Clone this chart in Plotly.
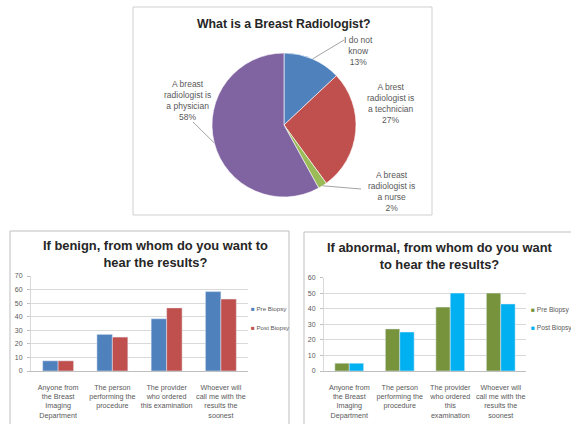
import math
import plotly.graph_objects as go

# ---- data -------------------------------------------------------------
pie_labels = [
    "I do not<br>know",
    "A brest<br>radiologist is<br>a technician",
    "A breast<br>radiologist is<br>a nurse",
    "A breast<br>radiologist is<br>a physician",
]
pie_values = [13, 27, 2, 58]
pie_colors = ["#4F81BD", "#C0504D", "#9BBB59", "#8064A2"]

series_names = ["Pre Biopsy", "Post Biopsy"]

benign_categories = [
    "Anyone from<br>the Breast<br>Imaging<br>Department",
    "The person<br>performing the<br>procedure",
    "The provider<br>who ordered<br>this examination",
    "Whoever will<br>call me with the<br>results the<br>soonest",
]
benign_pre = [7.5, 27, 38.5, 58.5]
benign_post = [7.5, 25, 46.5, 53]

abnormal_categories = [
    "Anyone from<br>the Breast<br>Imaging<br>Department",
    "The person<br>performing the<br>procedure",
    "The provider<br>who ordered<br>this<br>examination",
    "Whoever will<br>call me with the<br>results the<br>soonest",
]
abnormal_pre = [5, 27, 41, 50]
abnormal_post = [5, 25, 50, 43]

benign_ticks = [0, 10, 20, 30, 40, 50, 60, 70]
abnormal_ticks = [0, 10, 20, 30, 40, 50, 60]

# ---- page geometry (pixels) ------------------------------------------
W, H = 571, 424


def px(x):
    return x / W


def py(y):
    return 1 - y / H


FONT = "Liberation Sans, Arial, sans-serif"
GREY_TXT = "#595959"
GRID = "#D9D9D9"
BOX = "#BFBFBF"

fig = go.Figure()

# ---- pie -------------------------------------------------------------
pie_cx, pie_cy, pie_r = 284, 125, 72
fig.add_trace(go.Pie(
    values=pie_values,
    labels=[l.replace("<br>", " ") for l in pie_labels],
    marker=dict(colors=pie_colors, line=dict(color="white", width=0.6)),
    sort=False, direction="clockwise", rotation=0,
    textinfo="none", hoverinfo="label+percent", showlegend=False,
    domain=dict(x=[px(pie_cx - pie_r), px(pie_cx + pie_r)],
                y=[py(pie_cy + pie_r), py(pie_cy - pie_r)]),
))

# label placement around the pie (text centre, leader-line end or None)
pie_label_pos = [
    ((358, 51), (344, 40)),
    ((390, 103), None),
    ((391, 191), (361, 189)),
    ((187, 100), (193, 122)),
]
total = sum(pie_values)
cum = 0
annotations = []
shapes = []
for lab, val, (tpos, lend) in zip(pie_labels, pie_values, pie_label_pos):
    theta = 2 * math.pi * (cum + val / 2) / total
    cum += val
    ex = pie_cx + pie_r * math.sin(theta)
    ey = pie_cy - pie_r * math.cos(theta)
    if lend is not None:
        shapes.append(dict(type="line", xref="paper", yref="paper",
                           x0=px(ex), y0=py(ey), x1=px(lend[0]), y1=py(lend[1]),
                           line=dict(color="#8C8C8C", width=0.8)))
    annotations.append(dict(text=f"{lab}<br>{val}%", x=px(tpos[0]), y=py(tpos[1]),
                            xref="paper", yref="paper", showarrow=False,
                            font=dict(family=FONT, size=8.5, color=GREY_TXT),
                            align="center", xanchor="center", yanchor="middle"))

annotations.append(dict(text="<b>What is a Breast Radiologist?</b>",
                        x=px(284), y=py(24), xref="paper", yref="paper",
                        showarrow=False, xanchor="center", yanchor="middle",
                        font=dict(family=FONT, size=12.3, color="#262626")))

# ---- bar charts ------------------------------------------------------
fig.add_trace(go.Bar(x=benign_categories, y=benign_pre, name=series_names[0],
                     marker=dict(color="#4F81BD"), xaxis="x", yaxis="y",
                     showlegend=False))
fig.add_trace(go.Bar(x=benign_categories, y=benign_post, name=series_names[1],
                     marker=dict(color="#C0504D"), xaxis="x", yaxis="y",
                     showlegend=False))
fig.add_trace(go.Bar(x=abnormal_categories, y=abnormal_pre, name=series_names[0],
                     marker=dict(color="#77933C"), xaxis="x2", yaxis="y2",
                     showlegend=False))
fig.add_trace(go.Bar(x=abnormal_categories, y=abnormal_post, name=series_names[1],
                     marker=dict(color="#00B0F0"), xaxis="x2", yaxis="y2",
                     showlegend=False))

annotations.append(dict(text="<b>If benign, from whom do you want to<br>hear the results?</b>",
                        x=px(156), y=py(254), xref="paper", yref="paper",
                        showarrow=False, xanchor="center", yanchor="middle",
                        font=dict(family=FONT, size=12.9, color="#262626")))
annotations.append(dict(text="<b>If abnormal, from whom do you want<br>to hear the results?</b>",
                        x=px(440), y=py(256), xref="paper", yref="paper",
                        showarrow=False, xanchor="center", yanchor="middle",
                        font=dict(family=FONT, size=12.9, color="#262626")))

# legend entries for each bar chart
legend_specs = [
    (249, [308, 327], ["#4F81BD", "#C0504D"], 6.2),
    (529, [310, 328], ["#77933C", "#00B0F0"], 6.6),
]
for lx, lys, cols, fs in legend_specs:
    for name, ly, col in zip(series_names, lys, cols):
        annotations.append(dict(
            text=f"<span style='color:{col}'>■</span> {name}",
            x=px(lx), y=py(ly), xref="paper", yref="paper", showarrow=False,
            xanchor="left", yanchor="middle",
            font=dict(family=FONT, size=fs, color=GREY_TXT)))

# chart frames
for x0, y0, x1, y1, col in [(133, 7, 432, 215, "#CFCFCF"),
                            (10, 231, 289, 430, BOX),
                            (304, 232, 572, 430, BOX)]:
    shapes.append(dict(type="rect", xref="paper", yref="paper", layer="below",
                       x0=px(x0), y0=py(y1), x1=px(x1), y1=py(y0),
                       line=dict(color=col, width=1), fillcolor="rgba(0,0,0,0)"))

axis_common = dict(showgrid=False, showline=True, linecolor=BOX, linewidth=1,
                   ticks="", ticklabelstandoff=9, tickangle=0, automargin=False,
                   tickfont=dict(family=FONT, size=7.2, color=GREY_TXT),
                   fixedrange=True)
yaxis_common = dict(showgrid=True, gridcolor=GRID, gridwidth=1, showline=True,
                    linecolor=GRID, ticks="outside", ticklen=3, tickcolor=BOX,
                    ticklabelstandoff=3, automargin=False,
                    tickfont=dict(family=FONT, size=7, color=GREY_TXT),
                    zeroline=False, fixedrange=True)

fig.update_layout(
    width=W, height=H,
    margin=dict(l=0, r=0, t=0, b=0),
    paper_bgcolor="white", plot_bgcolor="white",
    barmode="group",
    bargroupgap=0,
    xaxis=dict(domain=[px(31), px(248)], anchor="y", **axis_common),
    yaxis=dict(domain=[py(371), py(276)], anchor="x", range=[0, 70],
               tickvals=benign_ticks, **yaxis_common),
    xaxis2=dict(domain=[px(324), px(526)], anchor="y2", **axis_common),
    yaxis2=dict(domain=[py(371), py(277.5)], anchor="x2", range=[0, 60],
                tickvals=abnormal_ticks, **yaxis_common),
    bargap=0.43,
    annotations=annotations,
    shapes=shapes,
    showlegend=False,
)

fig.write_html("out.html")
